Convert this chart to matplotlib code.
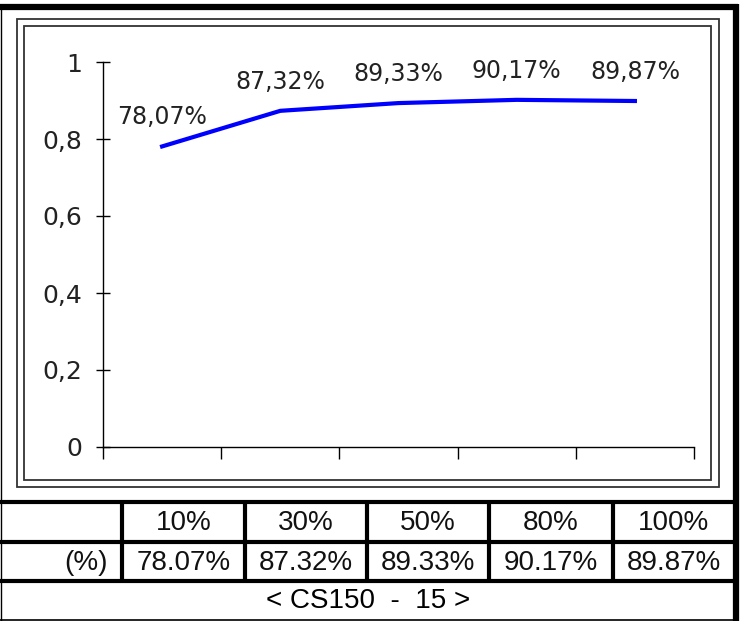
import matplotlib.pyplot as plt
from matplotlib.patches import Rectangle
from matplotlib.lines import Line2D

categories = ["10%", "30%", "50%", "80%", "100%"]
values = [0.7807, 0.8732, 0.8933, 0.9017, 0.8987]
chart_labels = ["78,07%", "87,32%", "89,33%", "90,17%", "89,87%"]
table_labels = ["78.07%", "87.32%", "89.33%", "90.17%", "89.87%"]
yticks = [0, 0.2, 0.4, 0.6, 0.8, 1]
ytick_labels = ["0", "0,2", "0,4", "0,6", "0,8", "1"]
row_name = "(%)"
title = "< CS150  -  15 >"

W, H = 743, 621
fig = plt.figure(figsize=(W / 100, H / 100), dpi=100)


def fx(px):
    return px / W


def fy(py):
    return 1 - py / H


def hline(y, x0, x1, lw, color="black"):
    fig.add_artist(Line2D([fx(x0), fx(x1)], [fy(y), fy(y)], lw=lw, color=color,
                          transform=fig.transFigure, solid_capstyle="butt"))


def vline(x, y0, y1, lw, color="black"):
    fig.add_artist(Line2D([fx(x), fx(x)], [fy(y0), fy(y1)], lw=lw, color=color,
                          transform=fig.transFigure, solid_capstyle="butt"))


# outer border
hline(6.5, 0, 738, 4.5)
vline(735.5, 4, 621, 4.5)
vline(0.5, 4, 621, 1)
hline(620, 0, 738, 1.2)

# double frame around the plot
for (x0, y0, x1, y1) in [(16.5, 18.5, 719, 487), (23.5, 25.5, 711, 480)]:
    fig.add_artist(Rectangle((fx(x0), fy(y1)), fx(x1 - x0), (y1 - y0) / H,
                             fill=False, lw=1.3, edgecolor="#333333",
                             transform=fig.transFigure))

# plot area
ax = fig.add_axes([fx(103), fy(447), fx(694 - 103), (447 - 62) / H])
x = [i + 0.5 for i in range(len(values))]
ax.plot(x, values, color="#0000ff", lw=3)
for xi, v, lab in zip(x, values, chart_labels):
    ax.annotate(lab, (xi, v), xytext=(0, 21), textcoords="offset points",
                ha="center", va="center", fontsize=17, color="#222222",
                family="DejaVu Sans", annotation_clip=False)
ax.set_xlim(0, len(values))
ax.set_ylim(0, 1)
ax.set_xticks(range(len(values) + 1))
ax.set_xticklabels([])
ax.set_yticks(yticks)
ax.set_yticklabels(ytick_labels, fontsize=18, color="#222222")
ax.tick_params(axis="y", direction="inout", length=10, width=1, pad=10)
ax.tick_params(axis="x", direction="out", length=8.5, width=1)
for s in ["top", "right"]:
    ax.spines[s].set_visible(False)
for s in ["left", "bottom"]:
    ax.spines[s].set_linewidth(1)
ax.patch.set_alpha(0)

# table below
col_x = [0, 122, 244.5, 367, 489, 612.5, 735]
row_y = [501.5, 542, 581, 620]
hline(row_y[0], 0, 736, 3)
hline(row_y[1], 0, 736, 3)
hline(row_y[2], 0, 736, 3)
for cx in col_x[1:-1]:
    vline(cx, row_y[0], row_y[2], 3)

font = ["Liberation Sans", "DejaVu Sans"]
for i, (cat, lab) in enumerate(zip(categories, table_labels)):
    cx = (col_x[i + 1] + col_x[i + 2]) / 2
    fig.text(fx(cx), fy((row_y[0] + row_y[1]) / 2 + 1), cat, ha="center",
             va="center", fontsize=20, family=font, color="#111111")
    fig.text(fx(cx), fy((row_y[1] + row_y[2]) / 2 + 1), lab, ha="center",
             va="center", fontsize=20, family=font, color="#111111")
fig.text(fx(col_x[1] - 14), fy((row_y[1] + row_y[2]) / 2 + 1), row_name,
         ha="right", va="center", fontsize=20, family=font, color="#111111")
fig.text(fx(368), fy((row_y[2] + row_y[3]) / 2 + 1), title, ha="center",
         va="center", fontsize=20, family=font, fontweight="medium")

fig.savefig("out.png", dpi=100)
